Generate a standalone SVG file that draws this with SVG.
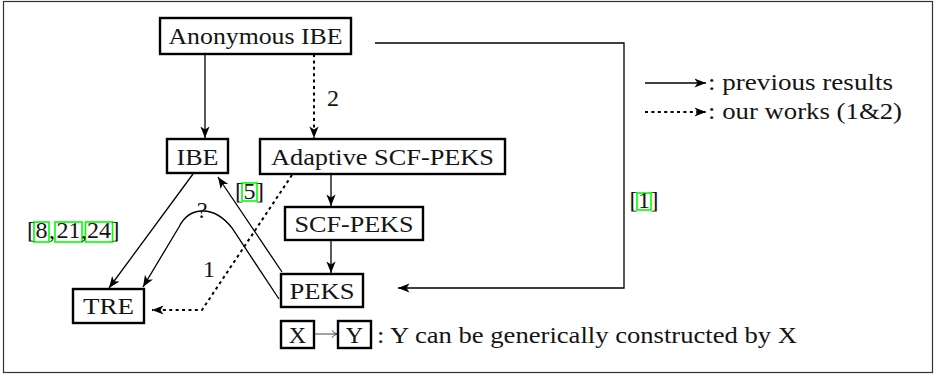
<svg xmlns="http://www.w3.org/2000/svg" width="936" height="376" viewBox="0 0 936 376">
  <defs>
    <style>
      .frame { fill: #ffffff; stroke: #333333; stroke-width: 1.2; }
      .box { fill: #ffffff; stroke: #000000; stroke-width: 2.4; }
      .t { font-family: "Liberation Serif", "DejaVu Serif", serif; font-size: 24px; fill: #141414; }
      .mid { text-anchor: middle; }
      .ln { fill: none; stroke: #000000; stroke-width: 1.3; }
      .dot { fill: none; stroke: #000000; stroke-width: 2; stroke-dasharray: 3 3.4; }
      .cite { fill: none; stroke: #00ff00; stroke-width: 1.6; }
    </style>
    <marker id="head" viewBox="-12 -6 13 12" refX="0" refY="0" markerWidth="13" markerHeight="12" markerUnits="userSpaceOnUse" orient="auto">
      <path d="M0,0 L-11.5,-4.6 L-8.5,0 L-11.5,4.6 Z" fill="#000000"/>
    </marker>
  </defs>

  <!-- outer frame -->
  <rect class="frame" x="3.5" y="1.5" width="929" height="371"/>

  <!-- nodes -->
  <g id="anonymous-ibe">
    <rect class="box" x="160" y="18" width="191" height="36"/>
    <text class="t mid" x="255.5" y="43.5" textLength="174" lengthAdjust="spacingAndGlyphs">Anonymous IBE</text>
  </g>
  <g id="ibe">
    <rect class="box" x="167" y="139" width="61" height="34"/>
    <text class="t mid" x="197.5" y="164.5" textLength="42" lengthAdjust="spacingAndGlyphs">IBE</text>
  </g>
  <g id="adaptive-scf-peks">
    <rect class="box" x="260" y="139" width="245" height="35"/>
    <text class="t mid" x="382.5" y="165" textLength="223" lengthAdjust="spacingAndGlyphs">Adaptive SCF-PEKS</text>
  </g>
  <g id="scf-peks">
    <rect class="box" x="285" y="207" width="138" height="33"/>
    <text class="t mid" x="354" y="232" textLength="119" lengthAdjust="spacingAndGlyphs">SCF-PEKS</text>
  </g>
  <g id="peks">
    <rect class="box" x="281" y="274" width="82" height="33"/>
    <text class="t mid" x="322" y="299" textLength="65" lengthAdjust="spacingAndGlyphs">PEKS</text>
  </g>
  <g id="tre">
    <rect class="box" x="73" y="289" width="71" height="34"/>
    <text class="t mid" x="108.5" y="314" textLength="51" lengthAdjust="spacingAndGlyphs">TRE</text>
  </g>

  <!-- connectors -->
  <g id="connectors">
    <path class="ln" d="M205,54 V138" marker-end="url(#head)"/>
    <path class="dot" d="M314,54 V138" marker-end="url(#head)"/>
    <path class="ln" d="M331,174 V206" marker-end="url(#head)"/>
    <path class="ln" d="M331,240 V273" marker-end="url(#head)"/>
    <path class="ln" d="M193,174 L109,288" marker-end="url(#head)"/>
    <path class="ln" d="M282,272 L218,177" marker-end="url(#head)"/>
    <path class="ln" d="M279,299 L232,228 C215,206 190,205 179,227 L143,287" marker-end="url(#head)"/>
    <path class="dot" d="M292,175 L202,310 H152" marker-end="url(#head)"/>
    <path class="ln" d="M375,43 H624 V288 H398" marker-end="url(#head)"/>

    <!-- edge labels -->
    <text class="t" x="327" y="106">2</text>
    <text class="t" x="203" y="277">1</text>
    <text class="t mid" x="202" y="218">?</text>

    <!-- citations: link boxes behind, one text run each -->
    <rect class="cite" x="34" y="222" width="15" height="20"/>
    <rect class="cite" x="55" y="222" width="27" height="20"/>
    <rect class="cite" x="85.5" y="222" width="27" height="20"/>
    <text class="t" y="238"><tspan x="27">[</tspan><tspan x="35.5">8</tspan><tspan x="49">,</tspan><tspan x="56.5">21</tspan><tspan x="81">,</tspan><tspan x="87">24</tspan><tspan x="111.5">]</tspan></text>

    <rect class="cite" x="242" y="183" width="15" height="18"/>
    <text class="t" y="199"><tspan x="235">[</tspan><tspan x="243.5">5</tspan><tspan x="256">]</tspan></text>

    <rect class="cite" x="637" y="193" width="14" height="17"/>
    <text class="t" y="208"><tspan x="629.5">[</tspan><tspan x="638">1</tspan><tspan x="650.5">]</tspan></text>
  </g>

  <!-- legend -->
  <g id="legend">
    <path class="ln" d="M645,83 H706" marker-end="url(#head)"/>
    <text class="t" x="708" y="89.5" textLength="185" lengthAdjust="spacingAndGlyphs">: previous results</text>
    <path class="dot" d="M645,112 H706" marker-end="url(#head)"/>
    <text class="t" x="708" y="118.5" textLength="194" lengthAdjust="spacingAndGlyphs">: our works (1&amp;2)</text>

    <rect class="box" x="281" y="321" width="33" height="27"/>
    <text class="t mid" x="297.5" y="343">X</text>
    <path d="M315,334 H337" fill="none" stroke="#444444" stroke-width="1"/>
    <path d="M332,330.5 Q334,333 337,334 Q334,335 332,337.5" fill="none" stroke="#444444" stroke-width="1"/>
    <rect class="box" x="338" y="321" width="33" height="27"/>
    <text class="t mid" x="354.5" y="343">Y</text>
    <text class="t" x="377" y="343" textLength="420" lengthAdjust="spacingAndGlyphs">: Y can be generically constructed by X</text>
  </g>
</svg>
